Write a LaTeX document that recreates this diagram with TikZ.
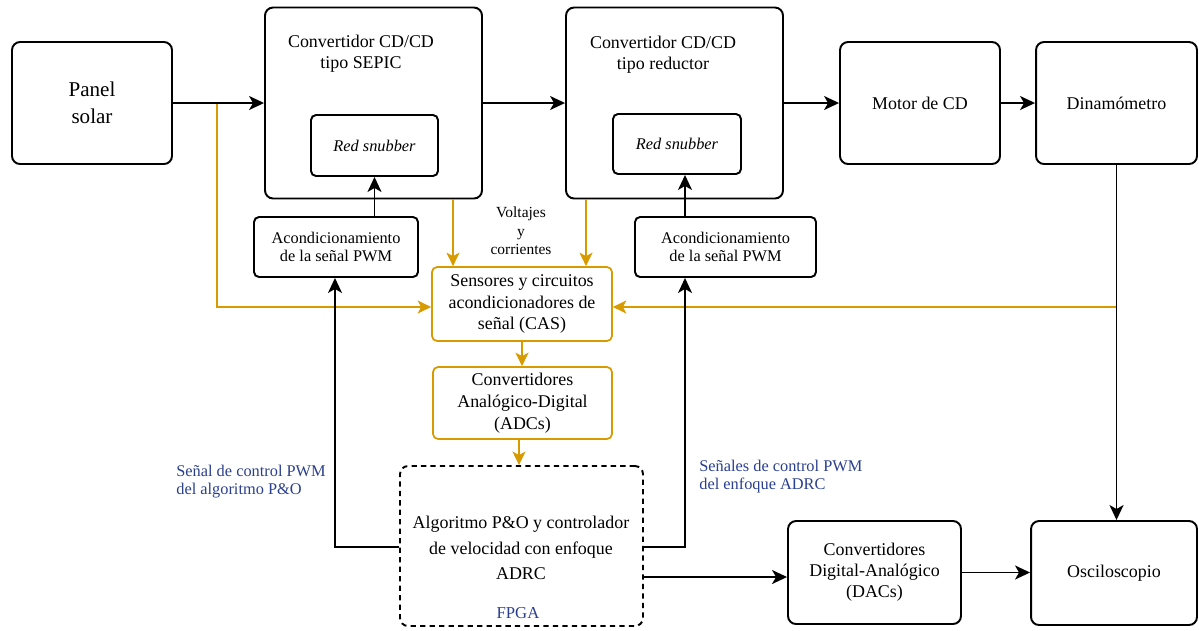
\documentclass[tikz,border=0pt]{standalone}
\usepackage{fontspec}
\setmainfont{LiberationSerif}[Extension=.ttf, UprightFont=*-Regular, ItalicFont=*-Italic,
  BoldFont=*-Bold, BoldItalicFont=*-BoldItalic]
\usetikzlibrary{arrows.meta}
\definecolor{amber}{HTML}{D79B00}
\definecolor{labelblue}{HTML}{2A3F8E}

\begin{document}
\begin{tikzpicture}[x=0.02cm,y=-0.02cm,
  blk/.style={draw=black, line width=1.1pt, rounded corners=0.16cm, inner sep=0pt,
              align=center, font=\fontsize{10.2}{12}\selectfont},
  sub/.style={draw=black, line width=1.1pt, rounded corners=0.1cm, inner sep=0pt,
              align=center, font=\fontsize{9.3}{10.6}\selectfont},
  obox/.style={draw=amber, line width=1pt, rounded corners=0.1cm, inner sep=0pt,
              align=center, font=\fontsize{10.2}{12.4}\selectfont},
  ttl/.style={inner sep=0pt, align=center, font=\fontsize{10.2}{12}\selectfont},
  note/.style={inner sep=0pt, align=left, text=labelblue, font=\fontsize{9.3}{10.6}\selectfont},
  arr/.style={draw=black, line width=1.1pt, -{Stealth[length=0.3cm,width=0.28cm,inset=0.08cm]}},
  oarr/.style={draw=amber, line width=0.9pt, -{Stealth[length=0.27cm,width=0.26cm,inset=0.07cm]}},
]
\useasboundingbox (0,0) rectangle (1199,630);

% --- power chain (top row)
\node[blk, minimum width=3.2cm, minimum height=2.44cm,
      font=\fontsize{12}{15.4}\selectfont] (panel) at (92,103) {Panel\\solar};
\node[blk, minimum width=4.34cm, minimum height=3.82cm] (sepic) at (373.5,103) {};
\node[ttl] (sepicT) at (361,54) {Convertidor CD/CD\\tipo SEPIC};
\node[sub, minimum width=2.54cm, minimum height=1.22cm, font=\fontsize{9.3}{11}\selectfont\itshape]
      (snub1) at (374.5,145.5) {Red snubber};
\node[blk, minimum width=4.34cm, minimum height=3.82cm] (reduc) at (674.5,103) {};
\node[ttl] (reducT) at (663,55) {Convertidor CD/CD\\tipo reductor};
\node[sub, minimum width=2.56cm, minimum height=1.2cm, font=\fontsize{9.3}{11}\selectfont\itshape]
      (snub2) at (677,144) {Red snubber};
\node[blk, minimum width=3.2cm, minimum height=2.44cm] (motor) at (920,103) {Motor de CD};
\node[blk, minimum width=3.22cm, minimum height=2.44cm] (dinam) at (1116.5,103) {Dinamómetro};

% --- PWM conditioning stages
\node[sub, minimum width=3.28cm, minimum height=1.2cm] (acond1) at (336,247)
      {Acondicionamiento\\de la señal PWM};
\node[sub, minimum width=3.62cm, minimum height=1.2cm] (acond2) at (725.5,247)
      {Acondicionamiento\\de la señal PWM};

% --- measurement chain
\node[obox, minimum width=3.6cm, minimum height=1.48cm] (cas) at (522,304)
      {Sensores y circuitos\\acondicionadores de\\señal (CAS)};
\node[obox, minimum width=3.58cm, minimum height=1.44cm] (adc) at (522.5,403)
      {Convertidores\\Analógico-Digital\\(ADCs)};
\node[inner sep=0pt, align=center, font=\fontsize{8.8}{10.5}\selectfont] (vi) at (521,231)
      {Voltajes\\y\\corrientes};

% --- FPGA block
\node[draw=black, line width=1.1pt, dash pattern=on 3pt off 2.4pt, rounded corners=0.16cm,
      minimum width=4.86cm, minimum height=3.2cm] (fpga) at (521.5,546) {};
\node[inner sep=0pt, align=center, font=\fontsize{10.2}{14.5}\selectfont] (alg) at (521,548)
      {Algoritmo P\&O y controlador\\de velocidad con enfoque\\ADRC};
\node[inner sep=0pt, text=labelblue, font=\fontsize{9.5}{11}\selectfont] (fpgaT) at (518,613) {FPGA};

% --- output stages
\node[blk, minimum width=3.46cm, minimum height=2.06cm] (dac) at (874.5,572.5)
      {Convertidores\\Digital-Analógico\\(DACs)};
\node[blk, minimum width=3.32cm, minimum height=2.08cm] (osc) at (1114,573) {Osciloscopio};

% --- control-signal labels
\node[note, anchor=west] (lblL) at (176,481.5) {Señal de control PWM\\del algoritmo P\&O};
\node[note, anchor=west] (lblR) at (699,476.5) {Señales de control PWM\\del enfoque ADRC};

% --- sensing connectors (amber)
\coordinate (tapP) at (217,103);
\draw[oarr] (tapP) |- (cas.west |- 0,307);
\draw[oarr] (dinam.south |- 0,307) -- (cas.east |- 0,307);
\draw[oarr] (sepic.south -| 453,0) -- (cas.north -| 453,0);
\draw[oarr] (reduc.south -| 586,0) -- (cas.north -| 586,0);
\draw[oarr] (cas.south -| 522,0) -- (adc.north -| 522,0);
\draw[oarr] (adc.south -| 519,0) -- (fpga.north -| 519,0);

% --- power and signal connectors (black)
\draw[arr] (panel.east) -- (sepic.west);
\draw[arr] (sepic.east) -- (reduc.west);
\draw[arr] (reduc.east) -- (motor.west);
\draw[arr] (motor.east) -- (dinam.west);
\draw[arr] (acond1.north -| snub1.south) -- (snub1.south);
\draw[arr] (acond2.north -| 685,0) -- (snub2.south -| 685,0);
\coordinate (pwmL) at (335,547);
\coordinate (pwmR) at (685,547);
\draw[arr] (fpga.west |- pwmL) -- (pwmL) -- (acond1.south -| pwmL);
\draw[arr] (fpga.east |- pwmR) -- (pwmR) -- (acond2.south -| pwmR);
\draw[arr] (fpga.east |- 0,577) -- (dac.west |- 0,577);
\draw[arr] (dac.east) -- (osc.west |- dac.east);
\draw[arr] (dinam.south) -- (dinam.south |- osc.north);
\end{tikzpicture}
\end{document}
